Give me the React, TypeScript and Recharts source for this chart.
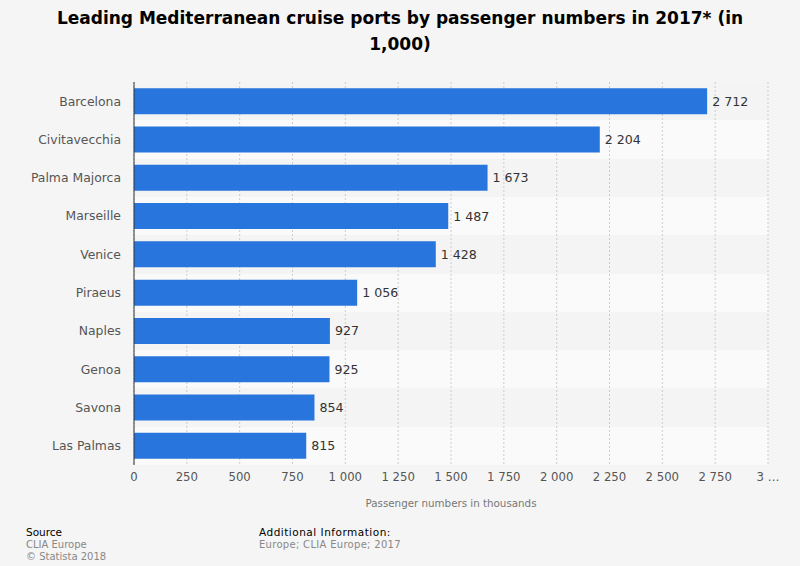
import { BarChart, Bar, XAxis, YAxis, CartesianGrid, LabelList, Label } from 'recharts';

// Ports and passenger numbers (in 1,000)
const ports = ['Barcelona', 'Civitavecchia', 'Palma Majorca', 'Marseille', 'Venice', 'Piraeus', 'Naples', 'Genoa', 'Savona', 'Las Palmas'];
const passengers = [2712, 2204, 1673, 1487, 1428, 1056, 927, 925, 854, 815];
const xTicks = [0, 250, 500, 750, 1000, 1250, 1500, 1750, 2000, 2250, 2500, 2750, 3000];

const data = ports.map((port, i) => ({ port, value: passengers[i] }));

const font = '"DejaVu Sans", sans-serif';

const formatNumber = (v: number) => String(v).replace(/\B(?=(\d{3})+(?!\d))/g, ' ');
const formatTick = (v: number) => (v === 3000 ? '3 …' : formatNumber(v));

// band boundaries for the alternating row stripes
const stripeRows = ({ offset }: any) =>
  ports.map((_, i) => offset.top + (i * offset.height) / ports.length);

if (typeof document !== 'undefined') document.body.style.margin = '0';

export default function App() {
  return (
    <div style={{ position: 'relative', width: 800, height: 566, background: '#f5f5f5', fontFamily: font, overflow: 'hidden' }}>
      <div
        style={{
          position: 'absolute',
          top: 5,
          left: 40,
          width: 720,
          textAlign: 'center',
          fontWeight: 'bold',
          fontSize: 17,
          lineHeight: '26px',
          color: '#000',
        }}
      >
        Leading Mediterranean cruise ports by passenger numbers in 2017* (in 1,000)
      </div>

      <div style={{ position: 'absolute', top: 0, left: 0 }}>
        <BarChart
          width={800}
          height={520}
          data={data}
          layout="vertical"
          margin={{ top: 82, right: 32, left: 0, bottom: 10 }}
          barCategoryGap="16%"
        >
          <CartesianGrid
            stroke="none"
            vertical={false}
            horizontalFill={['#f4f4f4', '#fafafa']}
            horizontalCoordinatesGenerator={stripeRows}
          />
          <CartesianGrid horizontal={false} stroke="#cccccc" strokeDasharray="2 2" />
          <XAxis
            type="number"
            domain={[0, 3000]}
            ticks={xTicks}
            tickFormatter={formatTick}
            axisLine={false}
            tickLine={false}
            height={45}
            tick={{ fill: '#555', fontSize: 11.7, fontFamily: font }}
            interval={0}
          >
            <Label
              value="Passenger numbers in thousands"
              position="insideBottom"
              offset={3}
              style={{ fill: '#777', fontSize: 10.3, fontFamily: font }}
            />
          </XAxis>
          <YAxis
            type="category"
            dataKey="port"
            width={134}
            tickLine={false}
            tickMargin={7}
            axisLine={{ stroke: '#333', strokeWidth: 1 }}
            tick={{ fill: '#555', fontSize: 12.4, fontFamily: font }}
            interval={0}
          />
          <Bar dataKey="value" fill="#2876dd" isAnimationActive={false}>
            <LabelList
              dataKey="value"
              position="right"
              offset={5}
              formatter={(v: any) => formatNumber(Number(v))}
              style={{ fill: '#333', fontSize: 12.6, fontFamily: font }}
            />
          </Bar>
        </BarChart>
      </div>

      <div style={{ position: 'absolute', left: 26, top: 526, fontSize: 10, lineHeight: '12.5px' }}>
        <div style={{ color: '#000', fontSize: 10.5 }}>Source</div>
        <div style={{ color: '#888' }}>CLIA Europe</div>
        <div style={{ color: '#888' }}>© Statista 2018</div>
      </div>
      <div style={{ position: 'absolute', left: 259, top: 526, fontSize: 10, lineHeight: '12.5px' }}>
        <div style={{ color: '#000', fontSize: 10.5, letterSpacing: 0.5 }}>Additional Information:</div>
        <div style={{ color: '#888', letterSpacing: 0.3 }}>Europe; CLIA Europe; 2017</div>
      </div>
    </div>
  );
}
